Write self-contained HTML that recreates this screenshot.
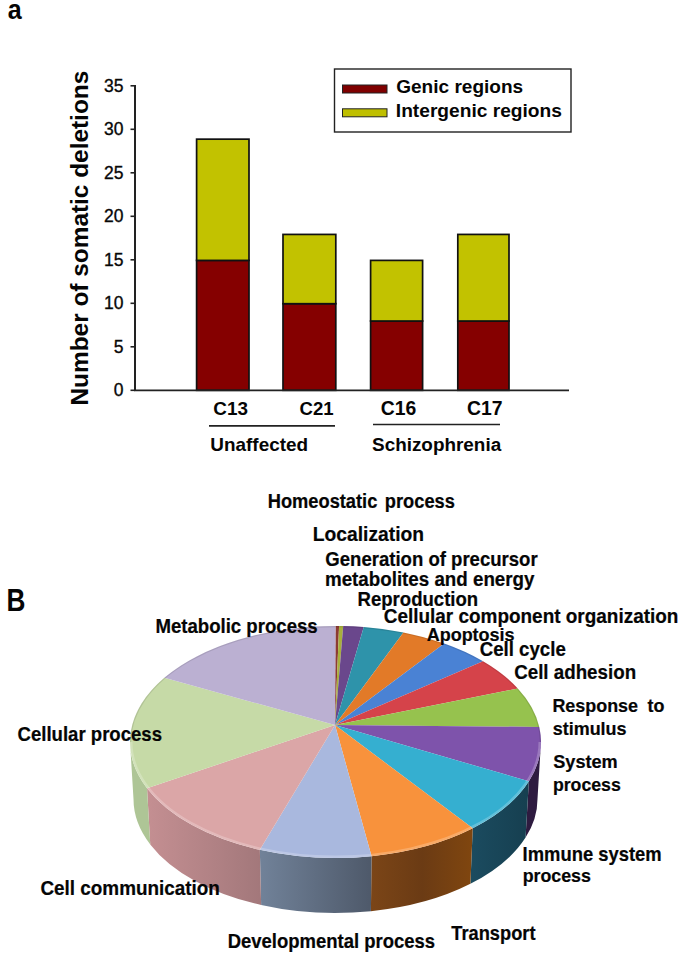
<!DOCTYPE html>
<html><head><meta charset="utf-8"><style>
html,body{margin:0;padding:0;background:#fff;}
svg{display:block;}
text{font-family:"Liberation Sans",sans-serif;fill:#050505;white-space:pre;}
</style></head><body>
<svg width="685" height="958" viewBox="0 0 685 958">
<text transform="translate(7.7,19.3) scale(0.88,1)" style="font-size:28.5px;font-weight:bold">a</text>
<text transform="translate(6.4,611) scale(0.86,1)" style="font-size:30.5px;font-weight:bold">B</text>
<text style="font-size:24.4px;font-weight:bold" transform="translate(87.6,405.5) rotate(-90)">Number of somatic deletions</text>
<line x1="130.5" y1="390.30" x2="135" y2="390.30" stroke="#222" stroke-width="1.6"/><text x="123.4" y="396.30" text-anchor="end" style="font-size:17.5px;stroke:#111;stroke-width:0.35px">0</text><line x1="130.5" y1="346.80" x2="135" y2="346.80" stroke="#222" stroke-width="1.6"/><text x="123.4" y="352.80" text-anchor="end" style="font-size:17.5px;stroke:#111;stroke-width:0.35px">5</text><line x1="130.5" y1="303.30" x2="135" y2="303.30" stroke="#222" stroke-width="1.6"/><text x="123.4" y="309.30" text-anchor="end" style="font-size:17.5px;stroke:#111;stroke-width:0.35px">10</text><line x1="130.5" y1="259.80" x2="135" y2="259.80" stroke="#222" stroke-width="1.6"/><text x="123.4" y="265.80" text-anchor="end" style="font-size:17.5px;stroke:#111;stroke-width:0.35px">15</text><line x1="130.5" y1="216.30" x2="135" y2="216.30" stroke="#222" stroke-width="1.6"/><text x="123.4" y="222.30" text-anchor="end" style="font-size:17.5px;stroke:#111;stroke-width:0.35px">20</text><line x1="130.5" y1="172.80" x2="135" y2="172.80" stroke="#222" stroke-width="1.6"/><text x="123.4" y="178.80" text-anchor="end" style="font-size:17.5px;stroke:#111;stroke-width:0.35px">25</text><line x1="130.5" y1="129.30" x2="135" y2="129.30" stroke="#222" stroke-width="1.6"/><text x="123.4" y="135.30" text-anchor="end" style="font-size:17.5px;stroke:#111;stroke-width:0.35px">30</text><line x1="130.5" y1="85.80" x2="135" y2="85.80" stroke="#222" stroke-width="1.6"/><text x="123.4" y="91.80" text-anchor="end" style="font-size:17.5px;stroke:#111;stroke-width:0.35px">35</text>
<rect x="196.6" y="260.40" width="52.4" height="129.90" fill="#850000" stroke="#111" stroke-width="1.7"/><rect x="196.6" y="139.16" width="52.4" height="121.24" fill="#c2c200" stroke="#111" stroke-width="1.7"/><rect x="283" y="303.70" width="52.8" height="86.60" fill="#850000" stroke="#111" stroke-width="1.7"/><rect x="283" y="234.42" width="52.8" height="69.28" fill="#c2c200" stroke="#111" stroke-width="1.7"/><rect x="370.6" y="321.02" width="52" height="69.28" fill="#850000" stroke="#111" stroke-width="1.7"/><rect x="370.6" y="260.40" width="52" height="60.62" fill="#c2c200" stroke="#111" stroke-width="1.7"/><rect x="457.8" y="321.02" width="51.2" height="69.28" fill="#850000" stroke="#111" stroke-width="1.7"/><rect x="457.8" y="234.42" width="51.2" height="86.60" fill="#c2c200" stroke="#111" stroke-width="1.7"/>
<line x1="135" y1="85" x2="135" y2="390.30" stroke="#222" stroke-width="2"/>
<line x1="134" y1="390.30" x2="569" y2="390.30" stroke="#222" stroke-width="1.8"/>
<rect x="334.5" y="69" width="236.5" height="63" fill="#fff" stroke="#222" stroke-width="1.4"/>
<rect x="342.5" y="85" width="44.5" height="8" fill="#7f0000" stroke="#222" stroke-width="1"/>
<rect x="342.5" y="108.8" width="44.5" height="8" fill="#bfbf00" stroke="#222" stroke-width="1"/>
<line x1="209" y1="425.9" x2="335" y2="425.9" stroke="#222" stroke-width="1.6"/>
<line x1="373" y1="424.5" x2="500" y2="424.5" stroke="#222" stroke-width="1.6"/>
<path d="M541.00,742.00 A205.5,116.0 0 0 1 528.85,781.29 L525.56,837.62 A202.0,114.0 0 0 0 537.50,799.00 Z" fill="#2e1b40"/>
<linearGradient id="sg9" gradientUnits="userSpaceOnUse" x1="472.74" y1="0" x2="528.85" y2="0"><stop offset="0.00" stop-color="#1b4b5f"/><stop offset="1.00" stop-color="#163f50"/></linearGradient>
<path d="M528.85,781.29 A205.5,116.0 0 0 1 472.74,828.34 L470.40,883.85 A202.0,114.0 0 0 0 525.56,837.62 Z" fill="url(#sg9)"/>
<linearGradient id="sg10" gradientUnits="userSpaceOnUse" x1="371.54" y1="0" x2="472.74" y2="0"><stop offset="0.00" stop-color="#7b4517"/><stop offset="0.50" stop-color="#6b3b14"/><stop offset="1.00" stop-color="#80460f"/></linearGradient>
<path d="M472.74,828.34 A205.5,116.0 0 0 1 371.54,856.20 L370.92,911.23 A202.0,114.0 0 0 0 470.40,883.85 Z" fill="url(#sg10)"/>
<linearGradient id="sg11" gradientUnits="userSpaceOnUse" x1="259.85" y1="0" x2="371.54" y2="0"><stop offset="0.00" stop-color="#718299"/><stop offset="1.00" stop-color="#4e596a"/></linearGradient>
<path d="M371.54,856.20 A205.5,116.0 0 0 1 259.85,849.85 L261.14,904.99 A202.0,114.0 0 0 0 370.92,911.23 Z" fill="url(#sg11)"/>
<linearGradient id="sg12" gradientUnits="userSpaceOnUse" x1="147.04" y1="0" x2="259.85" y2="0"><stop offset="0.00" stop-color="#c48f92"/><stop offset="1.00" stop-color="#a3787b"/></linearGradient>
<path d="M259.85,849.85 A205.5,116.0 0 0 1 147.04,788.25 L150.25,844.46 A202.0,114.0 0 0 0 261.14,904.99 Z" fill="url(#sg12)"/>
<path d="M147.04,788.25 A205.5,116.0 0 0 1 130.00,742.00 L133.50,799.00 A202.0,114.0 0 0 0 150.25,844.46 Z" fill="#aec596"/>
<path d="M335.0,725.0 L335.50,626.00 A205.5,116.0 0 0 1 339.09,626.02 Z" fill="#8c3b33"/>
<path d="M335.0,725.0 L339.09,626.02 A205.5,116.0 0 0 1 343.21,626.08 Z" fill="#a8b03c"/>
<path d="M335.0,725.0 L343.21,626.08 A205.5,116.0 0 0 1 363.74,627.10 Z" fill="#6a478c"/>
<path d="M335.0,725.0 L363.74,627.10 A205.5,116.0 0 0 1 403.42,632.52 Z" fill="#2e93aa"/>
<path d="M335.0,725.0 L403.42,632.52 A205.5,116.0 0 0 1 444.22,643.56 Z" fill="#e27a28"/>
<path d="M335.0,725.0 L444.22,643.56 A205.5,116.0 0 0 1 483.00,661.23 Z" fill="#4a82d4"/>
<path d="M335.0,725.0 L483.00,661.23 A205.5,116.0 0 0 1 517.78,688.44 Z" fill="#d5434a"/>
<path d="M335.0,725.0 L517.78,688.44 A205.5,116.0 0 0 1 539.25,726.90 Z" fill="#96c24e"/>
<path d="M335.0,725.0 L539.25,726.90 A205.5,116.0 0 0 1 528.85,781.29 Z" fill="#7e53ab"/>
<path d="M335.0,725.0 L528.85,781.29 A205.5,116.0 0 0 1 472.74,828.34 Z" fill="#35afd0"/>
<path d="M335.0,725.0 L472.74,828.34 A205.5,116.0 0 0 1 371.54,856.20 Z" fill="#f8923c"/>
<path d="M335.0,725.0 L371.54,856.20 A205.5,116.0 0 0 1 259.85,849.85 Z" fill="#a9b8de"/>
<path d="M335.0,725.0 L259.85,849.85 A205.5,116.0 0 0 1 147.04,788.25 Z" fill="#dba6a7"/>
<path d="M335.0,725.0 L147.04,788.25 A205.5,116.0 0 0 1 164.33,677.81 Z" fill="#c6daa7"/>
<path d="M335.0,725.0 L164.33,677.81 A205.5,116.0 0 0 1 335.50,626.00 Z" fill="#bbb0d2"/>
<clipPath id="topclip"><ellipse cx="335.5" cy="742.0" rx="205.5" ry="116.0"/></clipPath>
<path d="M541.00,742.00 A205.5,116.0 0 0 1 130.00,742.00" fill="none" stroke="#fff" stroke-opacity="0.22" stroke-width="5" clip-path="url(#topclip)"/>
<path d="M130.00,742.00 A205.5,116.0 0 0 1 541.00,742.00" fill="none" stroke="#000" stroke-opacity="0.10" stroke-width="2.4" clip-path="url(#topclip)"/>
<text x="396.24" y="92.60" style="font-size:19.04px;font-weight:bold;">Genic regions</text>
<text x="395.85" y="116.50" style="font-size:19.16px;font-weight:bold;">Intergenic regions</text>
<text x="213.35" y="414.50" style="font-size:18.86px;font-weight:bold;">C13</text>
<text x="299.56" y="414.50" style="font-size:18.58px;font-weight:bold;">C21</text>
<text x="380.73" y="414.50" style="font-size:19.38px;font-weight:bold;">C16</text>
<text x="467.12" y="414.50" style="font-size:19.38px;font-weight:bold;">C17</text>
<text x="210.37" y="450.90" style="font-size:18.91px;font-weight:bold;">Unaffected</text>
<text x="372.04" y="450.70" style="font-size:18.90px;font-weight:bold;">Schizophrenia</text>
<text transform="translate(267.70,507.60) scale(1,1.06)" style="font-size:18.28px;font-weight:bold;word-spacing:0.13em;stroke:#050505;stroke-width:0.2px">Homeostatic process</text>
<text transform="translate(312.84,540.80) scale(1,1.06)" style="font-size:19.26px;font-weight:bold;;stroke:#050505;stroke-width:0.2px">Localization</text>
<text transform="translate(325.36,566.00) scale(1,1.06)" style="font-size:18.56px;font-weight:bold;;stroke:#050505;stroke-width:0.2px">Generation of precursor</text>
<text transform="translate(324.97,586.10) scale(1,1.06)" style="font-size:18.76px;font-weight:bold;;stroke:#050505;stroke-width:0.2px">metabolites and energy</text>
<text transform="translate(357.59,606.30) scale(1,1.06)" style="font-size:18.57px;font-weight:bold;;stroke:#050505;stroke-width:0.2px">Reproduction</text>
<text transform="translate(383.74,622.60) scale(1,1.06)" style="font-size:18.95px;font-weight:bold;;stroke:#050505;stroke-width:0.2px">Cellular component organization</text>
<text transform="translate(426.64,640.70) scale(1,1.06)" style="font-size:18.01px;font-weight:bold;;stroke:#050505;stroke-width:0.2px">Apoptosis</text>
<text transform="translate(479.65,655.80) scale(1,1.06)" style="font-size:18.68px;font-weight:bold;;stroke:#050505;stroke-width:0.2px">Cell cycle</text>
<text transform="translate(514.15,679.10) scale(1,1.06)" style="font-size:18.77px;font-weight:bold;;stroke:#050505;stroke-width:0.2px">Cell adhesion</text>
<text transform="translate(552.42,712.10) scale(1,1.06)" style="font-size:17.92px;font-weight:bold;word-spacing:0.25em;stroke:#050505;stroke-width:0.2px">Response to</text>
<text transform="translate(552.78,734.50) scale(1,1.06)" style="font-size:17.94px;font-weight:bold;;stroke:#050505;stroke-width:0.2px">stimulus</text>
<text transform="translate(553.28,768.20) scale(1,1.06)" style="font-size:18.12px;font-weight:bold;;stroke:#050505;stroke-width:0.2px">System</text>
<text transform="translate(552.94,791.20) scale(1,1.06)" style="font-size:17.70px;font-weight:bold;;stroke:#050505;stroke-width:0.2px">process</text>
<text transform="translate(522.60,860.80) scale(1,1.06)" style="font-size:18.40px;font-weight:bold;;stroke:#050505;stroke-width:0.2px">Immune system</text>
<text transform="translate(522.63,882.00) scale(1,1.06)" style="font-size:17.78px;font-weight:bold;;stroke:#050505;stroke-width:0.2px">process</text>
<text transform="translate(451.33,940.10) scale(1,1.06)" style="font-size:18.25px;font-weight:bold;;stroke:#050505;stroke-width:0.2px">Transport</text>
<text transform="translate(227.69,947.80) scale(1,1.06)" style="font-size:18.49px;font-weight:bold;;stroke:#050505;stroke-width:0.2px">Developmental process</text>
<text transform="translate(40.44,894.80) scale(1,1.06)" style="font-size:18.89px;font-weight:bold;;stroke:#050505;stroke-width:0.2px">Cell communication</text>
<text transform="translate(17.56,740.50) scale(1,1.06)" style="font-size:18.58px;font-weight:bold;;stroke:#050505;stroke-width:0.2px">Cellular process</text>
<text transform="translate(155.38,632.60) scale(1,1.06)" style="font-size:18.62px;font-weight:bold;;stroke:#050505;stroke-width:0.2px">Metabolic process</text>
</svg>
</body></html>
